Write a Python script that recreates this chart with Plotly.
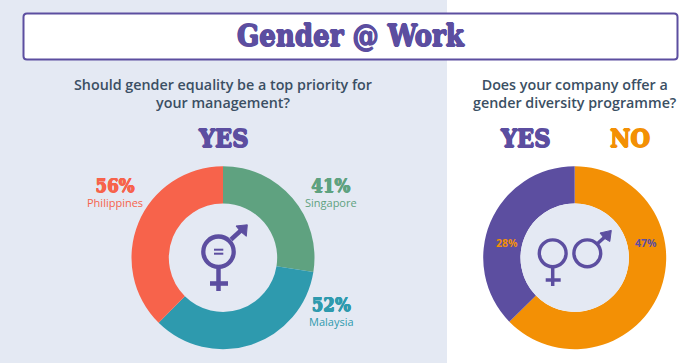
import plotly.graph_objects as go

# Data
countries = ["Singapore", "Malaysia", "Philippines"]
priority_values = [41, 52, 56]
priority_colors = ["#5FA280", "#2E9AAE", "#F7634B"]
programme_labels = ["NO", "YES"]
programme_values = [47, 28]
programme_colors = ["#F39005", "#5C4EA0"]

W, H = 700, 363
PURPLE = "#5C4EA0"
ORANGE = "#F39005"
PANEL = "#E4E9F3"
SLATE = "#3B4F63"
SLAB = "DejaVu Serif Condensed"
SANS = "Open Sans"


def domain(cx, cy, r):
    return dict(x=[(cx - r) / W, (cx + r) / W], y=[1 - (cy + r) / H, 1 - (cy - r) / H])


fig = go.Figure()
fig.add_trace(go.Pie(labels=countries, values=priority_values, sort=False, direction="clockwise",
                     rotation=0, hole=0.592, textinfo="none", hoverinfo="label+value",
                     marker=dict(colors=priority_colors, line=dict(width=0)),
                     domain=domain(223, 257.7, 91.5), showlegend=False))
fig.add_trace(go.Pie(labels=programme_labels, values=programme_values, sort=False, direction="clockwise",
                     rotation=0, hole=0.592, textinfo="none", hoverinfo="label+value",
                     marker=dict(colors=programme_colors, line=dict(width=0)),
                     domain=domain(574.7, 257.7, 91.5), showlegend=False))


def shape_line(x0, y0, x1, y1, w=3.2, color=PURPLE):
    return dict(type="line", x0=x0, y0=y0, x1=x1, y1=y1, xref="x", yref="y",
                line=dict(color=color, width=w), layer="above")


def shape_circle(cx, cy, r, w=3.2, fill="rgba(0,0,0,0)", line=PURPLE, layer="above"):
    return dict(type="circle", x0=cx - r, y0=cy - r, x1=cx + r, y1=cy + r, xref="x", yref="y",
                fillcolor=fill, line=dict(color=line, width=w), layer=layer)


def arrow_head(tip, a, notch, b):
    pts = [tip, a, notch, b]
    path = "M " + " L ".join(f"{x},{y}" for x, y in pts) + " Z"
    return dict(type="path", path=path, xref="x", yref="y", fillcolor=PURPLE,
                line=dict(color=PURPLE, width=1), layer="above")


shapes = [
    dict(type="rect", x0=0, x1=447, y0=0, y1=363, xref="x", yref="y", fillcolor=PANEL,
         line=dict(width=0), layer="below"),
    dict(type="path", xref="x", yref="y", fillcolor="white", line=dict(color=PURPLE, width=2), layer="below",
         path="M 27,13.5 L 674,13.5 Q 677.5,13.5 677.5,17 L 677.5,56 Q 677.5,59.5 674,59.5 "
              "L 27,59.5 Q 23.5,59.5 23.5,56 L 23.5,17 Q 23.5,13.5 27,13.5 Z"),
    # icon: combined symbol
    shape_circle(218.5, 251.7, 15.2, 4.3),
    shape_line(218.5, 268, 218.5, 291, 4.5),
    shape_line(210, 283.5, 228, 283.5, 4.6),
    shape_line(231, 239.5, 242, 229.5, 4.4),
    arrow_head((247.3, 224.8), (236, 226), (240.5, 231.5), (246.3, 236.3)),
    shape_line(214, 249.7, 223.3, 249.7, 2),
    shape_line(214, 253.7, 223.3, 253.7, 2),
    # icon: female
    shape_circle(552.7, 253.3, 13.4, 3.4),
    shape_line(552.7, 268, 552.7, 286, 3.5),
    shape_line(545.7, 280, 560.7, 280, 3.5),
    # icon: male
    shape_circle(587.3, 253.3, 13.4, 3.4),
    shape_line(597, 244, 606.5, 235.5, 3.5),
    arrow_head((611.3, 230.4), (600, 233), (604, 238), (609.8, 241.5)),
]


def heavy(color, d=0.5):
    return f"{d}px 0 0 {color}, -{d}px 0 0 {color}, 0 {d}px 0 {color}, 0 -{d}px 0 {color}"


def label(x, y, text, size, color, family=SANS, weight=400, shadow=None):
    font = dict(family=family, size=size, color=color, weight=weight)
    if shadow:
        font["shadow"] = heavy(color, shadow)
    return dict(x=x, y=y, xref="x", yref="y", text=text, showarrow=False, xanchor="center", yanchor="middle",
                align="center", font=font, borderpad=0)


def question(x, y, line1, line2):
    # outer size sets the line step; the spans carry the visible size
    size = 14.3
    sp = f'<span style="font-size:{size}px">'
    return label(x, y, f"{sp}{line1}</span><br>{sp}{line2}</span>", 17.5 / 1.3, SLATE, SANS, 600)


def callout(x, y, pct, name, color, step):
    big = (f'<span style="font-family:\'{SLAB}\';font-size:18.5px;font-weight:700;'
           f'text-shadow:{heavy(color, 0.5)}">{pct}%</span>')
    small = f'<span style="font-family:\'{SANS}\';font-size:11px;font-weight:500">{name}</span>'
    return label(x, y, f"{big}<br>{small}", step / 1.3, color, SANS, 500)


annotations = [
    label(350.5, 36, "Gender @ Work", 29, PURPLE, SLAB, 700, 0.7),
    question(223, 93.5, "Should gender equality be a top priority for", "your management?"),
    question(574.5, 93.5, "Does your company offer a", "gender diversity programme?"),
    label(223, 138, "YES", 25, PURPLE, SLAB, 700, 0.7),
    label(525, 138, "YES", 25, PURPLE, SLAB, 700, 0.7),
    label(630, 138, "NO", 25, ORANGE, SLAB, 700, 0.7),
    callout(331, 192.5, priority_values[0], countries[0], priority_colors[0], 14.5),
    callout(331, 311, priority_values[1], countries[1], priority_colors[1], 15),
    callout(115, 192.5, priority_values[2], countries[2], priority_colors[2], 14.5),
    label(507, 243, f"{programme_values[1]}%", 10.5, ORANGE, SANS, 700),
    label(646, 243, f"{programme_values[0]}%", 10.5, PURPLE, SANS, 700),
]

# inner disc of the right ring is panel-coloured
fig.add_trace(go.Pie(values=[1], hole=0, textinfo="none", hoverinfo="skip", sort=False,
                     marker=dict(colors=[PANEL], line=dict(width=0)),
                     domain=domain(574.7, 257.7, 54.2), showlegend=False))

fig.update_layout(
    width=W, height=H, margin=dict(l=0, r=0, t=0, b=0), paper_bgcolor="white", plot_bgcolor="rgba(0,0,0,0)",
    xaxis=dict(range=[0, W], visible=False, fixedrange=True),
    yaxis=dict(range=[H, 0], visible=False, fixedrange=True),
    shapes=shapes, annotations=annotations, showlegend=False,
)
fig.write_html("out.html", config=dict(displayModeBar=False),
               post_script="document.body.style.margin='0';document.documentElement.style.overflow='hidden';")
